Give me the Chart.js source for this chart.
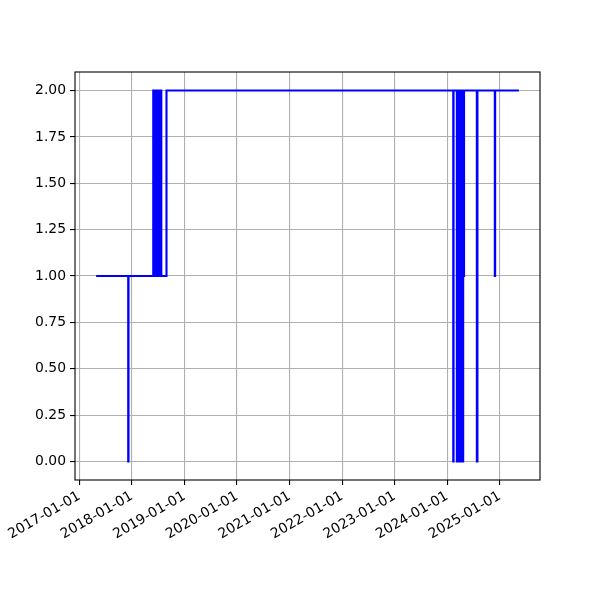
<!DOCTYPE html>
<html>
<head>
<meta charset="utf-8">
<script src="https://cdn.jsdelivr.net/npm/chart.js@4"></script>
<style>
  body { margin: 0; background: #fff; }
</style>
</head>
<body>
<canvas id="stateChart" width="600" height="600"></canvas>
<script>
// change points: the value holds from each date until the next one
const changeDates = [
    '2017-04-27', '2017-12-06', '2017-12-08',
    '2018-05-29', '2018-06-01', '2018-06-04', '2018-06-07',
    '2018-06-18', '2018-06-22', '2018-06-26', '2018-06-30', '2018-07-04',
    '2018-07-08', '2018-07-12', '2018-07-16', '2018-07-20', '2018-07-24',
    '2018-08-29',
    '2024-02-12', '2024-02-14',
    '2024-03-08', '2024-03-11', '2024-03-14', '2024-03-17',
    '2024-03-30', '2024-04-02', '2024-04-06', '2024-04-09', '2024-04-13',
    '2024-04-17', '2024-04-20', '2024-04-21', '2024-04-24', '2024-04-27',
    '2024-07-25', '2024-07-29',
    '2024-11-27', '2024-11-29',
    '2025-05-13'
];
const changeValues = [
    1, 0, 1,
    2, 1, 2, 1,
    2, 1, 2, 1, 2,
    1, 2, 1, 2, 1,
    2,
    0, 2,
    0, 2, 0, 2,
    0, 2, 0, 2, 0,
    2, 0, 2, 1, 2,
    0, 2,
    1, 2,
    2
];
const yearTicks = [2017, 2018, 2019, 2020, 2021, 2022, 2023, 2024, 2025];
const valueTicks = [0, 0.25, 0.5, 0.75, 1, 1.25, 1.5, 1.75, 2];

function toTime(s) {
    const p = s.split('-');
    return Date.UTC(+p[0], +p[1] - 1, +p[2]);
}

const points = changeDates.map((d, i) => ({ x: toTime(d), y: changeValues[i] }));
const tFirst = points[0].x;
const tLast = points[points.length - 1].x;
const tPad = (tLast - tFirst) * 0.05;

const fontSpec = { family: 'DejaVu Sans', size: 13.9 };

const framePlugin = {
    id: 'frame',
    afterDraw(chart) {
        const a = chart.chartArea;
        const ctx = chart.ctx;
        ctx.save();
        ctx.strokeStyle = '#000';
        ctx.lineWidth = 1.1;
        ctx.strokeRect(a.left, a.top, a.right - a.left, a.bottom - a.top);
        ctx.restore();
    }
};

const ctx = document.getElementById('stateChart').getContext('2d');
new Chart(ctx, {
    type: 'line',
    data: {
        datasets: [{
            data: points,
            borderColor: '#0000ff',
            borderWidth: 2.1,
            pointRadius: 0,
            stepped: 'before',
            fill: false
        }]
    },
    options: {
        responsive: false,
        animation: false,
        layout: { padding: { top: 72, right: 60, left: 0, bottom: 0 } },
        plugins: { legend: { display: false }, tooltip: { enabled: false } },
        scales: {
            x: {
                type: 'linear',
                min: tFirst - tPad,
                max: tLast + tPad,
                afterFit(scale) { scale.height = 120; },
                afterBuildTicks(scale) {
                    scale.ticks = yearTicks.map(y => ({ value: Date.UTC(y, 0, 1) }));
                },
                ticks: {
                    color: '#000',
                    font: fontSpec,
                    minRotation: 30,
                    maxRotation: 30,
                    padding: 3,
                    autoSkip: false,
                    callback: (v) => new Date(v).getUTCFullYear() + '-01-01'
                },
                grid: { color: '#b0b0b0', lineWidth: 1.1, tickColor: '#000', tickLength: 5 },
                border: { display: false }
            },
            y: {
                type: 'linear',
                min: -0.1,
                max: 2.1,
                afterFit(scale) { scale.width = 75; },
                afterBuildTicks(scale) {
                    scale.ticks = valueTicks.map(v => ({ value: v }));
                },
                ticks: {
                    color: '#000',
                    font: fontSpec,
                    padding: 4,
                    callback: (v) => v.toFixed(2)
                },
                grid: { color: '#b0b0b0', lineWidth: 1.1, tickColor: '#000', tickLength: 5 },
                border: { display: false }
            }
        }
    },
    plugins: [framePlugin]
});
</script>
</body>
</html>
